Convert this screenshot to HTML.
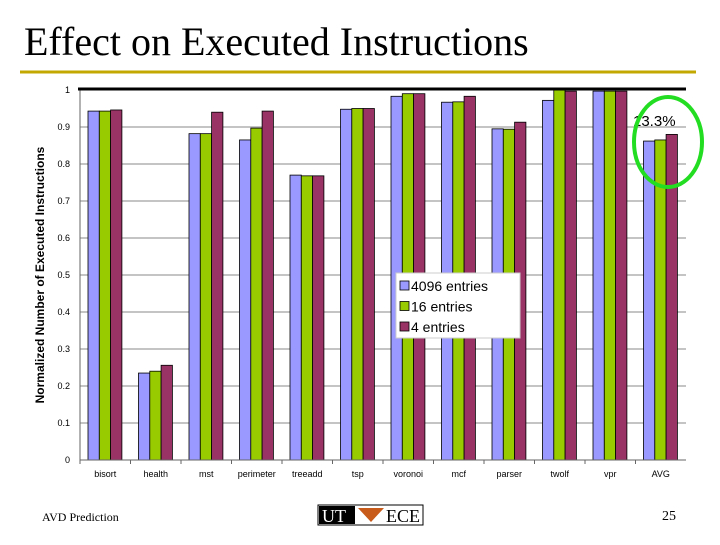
<!DOCTYPE html>
<html><head><meta charset="utf-8"><style>
body{margin:0;background:#fff;width:720px;height:540px;overflow:hidden;font-family:"Liberation Sans",sans-serif}
</style></head><body>
<svg width="720" height="540" xmlns="http://www.w3.org/2000/svg">
<text x="24" y="55" font-family="Liberation Serif,serif" font-size="40" fill="#000">Effect on Executed Instructions</text>
<line x1="20" y1="72" x2="696" y2="72" stroke="#c2a800" stroke-width="3"/>
<g id="chart"></g>
<text x="42" y="521" font-family="Liberation Serif,serif" font-size="12">AVD Prediction</text>
<g>
<rect x="318" y="505" width="105" height="20" fill="#fff" stroke="#000"/>
<rect x="319" y="506" width="36" height="18" fill="#000"/>
<text x="322" y="522" font-family="Liberation Serif,serif" font-size="18" fill="#fff">UT</text>
<polygon points="358,508 384,508 371,522" fill="#c85a1a"/>
<text x="386" y="522" font-family="Liberation Serif,serif" font-size="18">ECE</text>
</g>
<text x="662" y="520" font-family="Liberation Serif,serif" font-size="14">25</text>
</svg>
<script>
const categories=["bisort","health","mst","perimeter","treeadd","tsp","voronoi","mcf","parser","twolf","vpr","AVG"];
const series4096=[0.943,0.235,0.882,0.865,0.770,0.948,0.983,0.967,0.895,0.972,0.997,0.862];
const series16=[0.943,0.240,0.882,0.897,0.768,0.950,0.990,0.968,0.894,1.000,0.997,0.865];
const series4=[0.946,0.256,0.940,0.943,0.768,0.950,0.990,0.983,0.913,0.997,0.997,0.880];
const seriesNames=["4096 entries","16 entries","4 entries"];
const yTicks=[0,0.1,0.2,0.3,0.4,0.5,0.6,0.7,0.8,0.9,1];
const NS="http://www.w3.org/2000/svg";
const g=document.getElementById("chart");
const L=80,R=686,T=90,B=460;
const y=v=>B-(v)*(B-T);
const bw=(R-L)/categories.length;
const x=i=>L+i*bw;
function mk(t,a){const e=document.createElementNS(NS,t);for(const k in a)e.setAttribute(k,a[k]);g.appendChild(e);return e;}
yTicks.forEach(t=>{
 const ln=mk("line",{x1:L,x2:R,y1:y(t),y2:y(t),stroke:"#888","stroke-width":1});
 
 
 const tx=mk("text",{x:L-10,y:y(t)+3,"font-size":9,"text-anchor":"end"});
 tx.textContent=String(t);
 
 
});
const yl=mk("text",{x:44,y:275,"font-size":12,"font-weight":"bold","text-anchor":"middle",transform:"rotate(-90 44 275)"});
yl.textContent="Normalized Number of Executed Instructions";


const colors=["#9999ff","#99cc00","#993366"];
const all=[series4096,series16,series4];
categories.forEach((c,i)=>{
 all.forEach((s,j)=>{
  const r=mk("rect",{x:x(i)+8+j*11.3,y:y(s[i]),width:11.3,height:B-y(s[i]),fill:colors[j],stroke:"#000","stroke-width":0.8});
  
  
 });
 const t=mk("text",{x:x(i)+bw/2,y:477,"font-size":9,"text-anchor":"middle"});
 t.textContent=c;
 
 
 const tk=mk("line",{x1:x(i),x2:x(i),y1:B,y2:B+4,stroke:"#666"});
 
 
});
const ax=mk("line",{x1:L,x2:L,y1:T,y2:B,stroke:"#666"});


const xa=mk("line",{x1:L,x2:R,y1:B,y2:B,stroke:"#666"});


const topLine=mk("line",{x1:L-2,x2:R,y1:89,y2:89,stroke:"#000","stroke-width":3});


const lg=mk("rect",{x:396,y:273,width:124,height:65,fill:"#fff",stroke:"#ccc"});


seriesNames.forEach((n,j)=>{
 const sw=mk("rect",{x:400,y:281+j*20.5,width:9,height:9,fill:colors[j],stroke:"#000","stroke-width":0.8});
 
 
 const t=mk("text",{x:411,y:291+j*20.5,"font-size":14});
 t.textContent=n;
 
 
});
const lb=mk("text",{x:633,y:126,"font-size":15});
lb.textContent="13.3%";


const el=mk("ellipse",{cx:668,cy:142,rx:34,ry:45,fill:"none",stroke:"#22dd22","stroke-width":4});


</script>
</body></html>
